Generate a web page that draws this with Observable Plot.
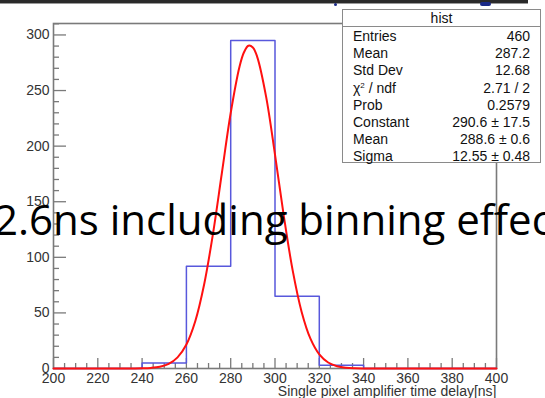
<!DOCTYPE html>
<html><head><meta charset="utf-8">
<script src="https://cdn.jsdelivr.net/npm/d3@7"></script>
<script src="https://cdn.jsdelivr.net/npm/@observablehq/plot@0.6"></script>
<style>
html,body{margin:0;padding:0;background:#fff}
body{width:545px;height:398px;overflow:hidden;position:relative;font-family:"Liberation Sans",Arial,sans-serif}
#chart{position:absolute;left:0;top:0}
#topbar{position:absolute;left:0;top:0;width:528px;height:3px;background:#2a2a2a;border-bottom:1px solid #999}
.dot{position:absolute;background:#1a2a88;border-radius:2px}
#stats{position:absolute;left:342px;top:9px;width:199px;height:154px;border:1px solid #8a8a8a;background:#fff;font-size:14px;color:#111;box-sizing:border-box}
#stats .hd{height:16px;line-height:17px;text-align:center;border-bottom:1px solid #8a8a8a}
#stats .rows{padding:1px 10px 0 10px}
#stats .row{display:flex;justify-content:space-between;height:17.2px;line-height:17.2px}
#stats sup{font-size:8px;line-height:0;vertical-align:5px}
#big{position:absolute;left:-6px;top:198px;white-space:nowrap;font-family:"Open Sans",sans-serif;font-size:42px;line-height:42px;color:#000}
</style></head><body>
<div id="chart"></div>
<div id="topbar"></div>
<div class="dot" style="left:334px;top:3px;width:3px;height:3px"></div>
<div class="dot" style="left:480px;top:2px;width:11px;height:4px"></div>
<div id="stats"></div>
<div id="big"></div>
<script>
// ---- data ----
const binEdges = [200, 220, 240, 260, 280, 300, 320, 340, 360, 380, 400];
const binCounts = [0, 0, 5, 92, 295, 65, 3, 0, 0, 0];
const fitX = [200, 220, 232, 236, 240, 244, 248, 252, 256, 260, 264, 268, 272, 276, 280, 284, 286, 288, 290, 292, 296, 300, 304, 308, 312, 316, 320, 324, 328, 332, 336, 340, 344, 360, 380, 400];
const fitY = [0, 0, 0.01, 0.05, 0.16, 0.53, 1.55, 4.1, 10.0, 21.6, 42.5, 75.5, 121.2, 175.6, 229.8, 271.7, 284.4, 290.3, 288.8, 280.1, 244.3, 192.4, 136.9, 88.0, 51.1, 26.8, 12.7, 5.4, 2.1, 0.73, 0.23, 0.07, 0.02, 0, 0, 0];
const yTickLabels = [0, 50, 100, 150, 200, 250, 300];
const xTickLabels = [200, 220, 240, 260, 280, 300, 320, 340, 360, 380, 400];
const xLabel = "Single pixel amplifier time delay[ns]";
const statsTitle = "hist";
const statsNames = ["Entries", "Mean", "Std Dev", "χ<sup>2</sup> / ndf", "Prob", "Constant", "Mean", "Sigma"];
const statsValues = ["460", "287.2", "12.68", "2.71 / 2", "0.2579", "290.6 ± 17.5", "288.6 ± 0.6", "12.55 ± 0.48"];
const overlayText = "2.6ns including binning effect";

// ---- layout ----
const W = 545, H = 398, mL = 53, mR = 49, mT = 23, mB = 30;
const fw = W - mL - mR, fh = H - mT - mB;

const histPts = binEdges.map((e, i) => ({x: e, y: i < binCounts.length ? binCounts[i] : 0}));
const fitPts = fitX.map((x, i) => ({x, y: fitY[i]}));
const yMinor = d3.range(0, 311, 10).filter(v => !yTickLabels.includes(v));
const xMinor = d3.range(200, 401, 5).filter(v => !xTickLabels.includes(v));

const axisCol = "#7a7a7a";
const chart = Plot.plot({
  width: W, height: H,
  marginLeft: mL, marginRight: mR, marginTop: mT, marginBottom: mB,
  x: {domain: [200, 400]},
  y: {domain: [0, 310.3]},
  style: {fontFamily: "Liberation Sans, Arial, sans-serif", fontSize: "14px", color: "#333", background: "transparent"},
  marks: [
    Plot.tickY(yMinor, {y: d => d, insetRight: fw - 6, stroke: axisCol, strokeWidth: 1.3}),
    Plot.tickY(yTickLabels, {y: d => d, insetRight: fw - 13, stroke: axisCol, strokeWidth: 1.3}),
    Plot.tickX(xMinor, {x: d => d, insetTop: fh - 5, stroke: axisCol, strokeWidth: 1.3}),
    Plot.tickX(xTickLabels, {x: d => d, insetTop: fh - 10, stroke: axisCol, strokeWidth: 1.3}),
    Plot.frame({stroke: axisCol, strokeWidth: 1.6}),
    Plot.line(histPts, {x: "x", y: "y", curve: "step-after", stroke: "#5858dc", strokeWidth: 1.5}),
    Plot.line(fitPts, {x: "x", y: "y", curve: "catmull-rom", stroke: "#ff1010", strokeWidth: 2}),
    Plot.axisY(yTickLabels, {tickSize: 0, tickPadding: 4, label: null, fill: "#333"}),
    Plot.axisX(xTickLabels, {tickSize: 0, tickPadding: 5, label: null, fill: "#333"}),
    Plot.text([xLabel], {frameAnchor: "bottom-right", dy: 27, textAnchor: "end", fill: "#333", fontSize: 14})
  ]
});
document.getElementById("chart").appendChild(chart);

// stats box
const st = document.getElementById("stats");
let html = `<div class="hd">${statsTitle}</div><div class="rows">`;
statsNames.forEach((n, i) => { html += `<div class="row"><span>${n}</span><span>${statsValues[i]}</span></div>`; });
html += "</div>";
st.innerHTML = html;
document.getElementById("big").textContent = overlayText;
</script>
</body></html>
